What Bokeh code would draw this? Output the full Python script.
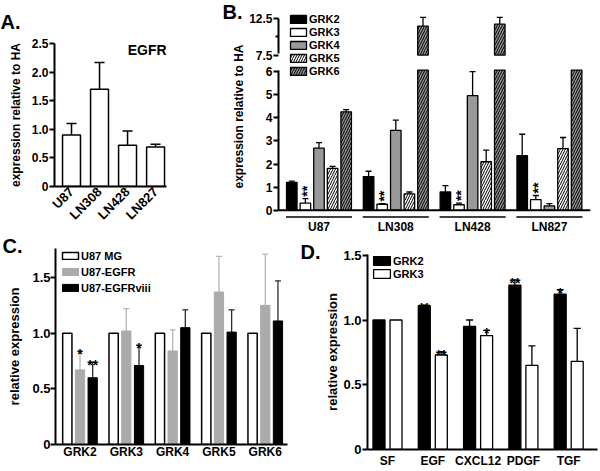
import numpy as np
from math import pi
from bokeh.plotting import figure
from bokeh.models import (Range1d, FixedTicker, Legend, LegendItem,
                          Whisker, TeeHead, ColumnDataSource, Span)
from bokeh.layouts import row, column
from bokeh.embed import file_html
from bokeh.resources import INLINE
from bokeh.core.properties import value

# ---------------- data ----------------
# Panel A
a_lines = ["U87", "LN308", "LN428", "LN827"]
a_egfr = [0.90, 1.70, 0.72, 0.69]
a_egfr_err = [1.10, 2.17, 0.97, 0.74]
a_yticks = [0, 0.5, 1.0, 1.5, 2.0, 2.5]
a_ylabels = ["0", "0.5", "1.0", "1.5", "2.0", "2.5"]

# Panel B
b_lines = ["U87", "LN308", "LN428", "LN827"]
b_series = ["GRK2", "GRK3", "GRK4", "GRK5", "GRK6"]
b_grk2 = [1.21, 1.46, 0.79, 2.36]
b_grk2_err = [1.26, 1.69, 1.07, 3.29]
b_grk3 = [0.31, 0.26, 0.24, 0.46]
b_grk3_err = [0.50, 0.29, 0.31, 0.64]
b_grk4 = [2.69, 3.46, 4.96, 0.19]
b_grk4_err = [2.93, 3.90, 6.00, 0.29]
b_grk5 = [1.81, 0.71, 2.10, 2.67]
b_grk5_err = [1.90, 0.79, 2.60, 3.15]
b_grk6 = [4.26, 11.45, 11.72, 7.00]
b_grk6_err = [4.36, 12.64, 12.64, 7.00]
b_grk3_stars = ["**", "**", "**", "**"]
b_low_ticks = [0, 1, 2, 3, 4, 5, 6]
b_high_ticks = [7.5, 12.5]
b_high_labels = ["7.5", "12.5"]
b_high_minor = [10]
b_break = (6.07, 7.5)

# Panel C
c_genes = ["GRK2", "GRK3", "GRK4", "GRK5", "GRK6"]
c_series = ["U87 MG", "U87-EGFR", "U87-EGFRviii"]
c_u87 = [1.0, 1.0, 1.0, 1.0, 1.0]
c_egfr = [0.67, 1.02, 0.84, 1.37, 1.25]
c_egfr_err = [0.84, 1.22, 1.03, 1.69, 1.71]
c_viii = [0.60, 0.71, 1.05, 1.01, 1.11]
c_viii_err = [0.74, 0.89, 1.21, 1.21, 1.47]
c_egfr_stars = ["*", "", "", "", ""]
c_viii_stars = ["**", "*", "", "", ""]
c_yticks = [0, 0.5, 1.0, 1.5]
c_ylabels = ["0", "0.5", "1.0", "1.5"]

# Panel D
d_conds = ["SF", "EGF", "CXCL12", "PDGF", "TGF"]
d_series = ["GRK2", "GRK3"]
d_grk2 = [1.00, 1.11, 0.95, 1.27, 1.20]
d_grk2_err = [1.00, 1.115, 1.00, 1.31, 1.235]
d_grk3 = [1.00, 0.73, 0.88, 0.65, 0.68]
d_grk3_err = [1.00, 0.755, 0.92, 0.80, 0.935]
d_grk2_stars = ["", "**", "", "**", "*"]
d_grk3_stars = ["", "**", "*", "", ""]
d_yticks = [0, 0.5, 1.0, 1.5]
d_ylabels = ["0", "0.5", "1.0", "1.5"]

FONT = "Liberation Sans"


def make_fig(w, h, xr, yr, left, right, top, bottom):
    p = figure(width=w, height=h, x_range=xr, y_range=yr, output_backend="svg",
               toolbar_location=None, min_border_left=left, min_border_right=right,
               min_border_top=top, min_border_bottom=bottom, frame_align=False)
    p.outline_line_color = None
    p.grid.visible = False
    p.background_fill_color = "white"
    p.border_fill_color = "white"
    return p


def style_axis(ax, font_px, tick_out=5, standoff=1):
    ax.axis_line_color = "black"
    ax.axis_line_width = 2
    if tick_out > 0:
        ax.major_tick_line_color = "black"
        ax.major_tick_line_width = 2
        ax.major_tick_out = tick_out
    else:
        ax.major_tick_line_color = None
        ax.major_tick_out = 0
    ax.major_tick_in = 0
    ax.minor_tick_line_color = None
    ax.major_label_standoff = standoff
    ax.major_label_text_font = FONT
    ax.major_label_text_font_style = "bold"
    ax.major_label_text_font_size = f"{font_px}px"
    ax.major_label_text_color = "black"
    ax.axis_label_text_font = FONT
    ax.axis_label_text_font_style = "bold"
    ax.axis_label_text_color = "black"


def add_err(p, x, val, top, color="black", size=7, y_range_name="default", width=1.5):
    x = np.asarray(x, float)
    val = np.asarray(val, float)
    top = np.asarray(top, float)
    m = top > val
    if not m.any():
        return
    src = ColumnDataSource(dict(base=x[m], lower=val[m], upper=top[m]))
    w = Whisker(base="base", lower="lower", upper="upper", source=src, dimension="height",
                line_color=color, line_width=width, lower_head=None,
                upper_head=TeeHead(size=size, line_color=color, line_width=width),
                y_range_name=y_range_name)
    p.add_layout(w)


def add_stars(p, x, y, labels, size, angle=0.0, x_off=0, y_off=3, align="center", baseline="alphabetic"):
    src = ColumnDataSource(dict(x=list(x), y=list(y), t=list(labels)))
    p.text(x="x", y="y", text="t", source=src, text_font=value(FONT), text_font_style="bold",
           text_font_size=f"{size}px", text_color="black", angle=angle,
           x_offset=x_off, y_offset=y_off, text_align=align, text_baseline=baseline)


def style_legend(leg, gw, gh, spacing):
    leg.glyph_width = gw
    leg.glyph_height = gh
    leg.label_height = 13
    leg.spacing = spacing
    leg.padding = 0
    leg.margin = 0
    leg.label_standoff = 1
    leg.border_line_color = None
    leg.background_fill_alpha = 0
    leg.label_text_font = FONT
    leg.label_text_font_style = "bold"
    leg.label_text_font_size = "11px"
    leg.label_text_color = "black"


def panel_letter(p, text, offset, standoff):
    t = p.title
    t.text = text
    t.align = "left"
    t.vertical_align = "top"
    t.offset = offset
    try:
        t.standoff = standoff
    except Exception:
        t.standoff = 0
    t.text_font = FONT
    t.text_font_style = "bold"
    t.text_font_size = "20px"
    t.text_color = "black"


# ---------------- Panel A ----------------
xa = np.arange(len(a_lines))
pa = make_fig(200, 236, Range1d(-0.607, 3.39), Range1d(0, 2.5), 54, 34, 43, 50)
pa.vbar(x=xa, top=a_egfr, width=0.64, fill_color="white", line_color="black", line_width=1.5)
add_err(pa, xa, a_egfr, a_egfr_err, size=10)
ay = pa.yaxis[0]
style_axis(ay, 12, tick_out=5, standoff=1)
ay.ticker = FixedTicker(ticks=a_yticks)
ay.major_label_overrides = dict(zip(a_yticks, a_ylabels))
ay.axis_label = "expression relative to HA"
ay.axis_label_text_font_size = "12px"
ay.axis_label_standoff = 6
ax_ = pa.xaxis[0]
style_axis(ax_, 13, tick_out=0, standoff=3)
ax_.ticker = FixedTicker(ticks=list(range(len(a_lines))))
ax_.major_label_overrides = dict(zip(range(len(a_lines)), a_lines))
ax_.major_label_orientation = pi / 4
pa.text(x=[2.7], y=[2.39], text=["EGFR"], text_font=value(FONT), text_font_style="bold",
        text_font_size="14px", text_align="center", text_baseline="alphabetic", text_color="black")
panel_letter(pa, "A.", -54, 17)

# ---------------- Panel B ----------------
nb = len(b_lines)
xb = np.arange(nb)
B_STEP, B_W = 0.177, 0.137
B_H, B_TOP, B_BOTTOM = 236, 14, 16
lo_start, lo_end = -0.356, 8.474
up_start, up_end = -14.8, 13.04
pb = make_fig(400, B_H, Range1d(-0.527, 3.535), Range1d(lo_start, lo_end), 78, 10, B_TOP, B_BOTTOM)
pb.extra_y_ranges = {"upper": Range1d(up_start, up_end)}


def up_to_lo(u):
    return lo_start + (u - up_start) * (lo_end - lo_start) / (up_end - up_start)


b_vals = [b_grk2, b_grk3, b_grk4, b_grk5, b_grk6]
b_errs = [b_grk2_err, b_grk3_err, b_grk4_err, b_grk5_err, b_grk6_err]
b_styles = [
    dict(fill_color="black"),
    dict(fill_color="white"),
    dict(fill_color="#999999"),
    dict(fill_color="white", hatch_pattern="/", hatch_color="black", hatch_scale=5, hatch_weight=1),
    dict(fill_color="#9a9a9a", hatch_pattern="/", hatch_color="#1a1a1a", hatch_scale=5, hatch_weight=1.2),
]
clip_lo, clip_hi = b_break
items = []
for i, (name, v, e, st) in enumerate(zip(b_series, b_vals, b_errs, b_styles)):
    xs = xb + (i - 2) * B_STEP
    v = np.asarray(v, float)
    e = np.asarray(e, float)
    r = pb.vbar(x=xs, top=np.minimum(v, clip_lo), bottom=0, width=B_W,
                line_color="black", line_width=1.3, **st)
    items.append(LegendItem(label=name, renderers=[r]))
    hi = v > clip_hi
    if hi.any():
        pb.vbar(x=xs[hi], top=v[hi], bottom=clip_hi, width=B_W, y_range_name="upper",
                line_color="black", line_width=1.3, **st)
        add_err(pb, xs[hi], v[hi], e[hi], size=6, y_range_name="upper", width=1.3)
    lo = e <= clip_lo
    add_err(pb, xs[lo], v[lo], e[lo], size=6, width=1.3)
x3 = xb - 1 * B_STEP
add_stars(pb, x3, b_grk3_err, b_grk3_stars, 14, angle=pi / 2, x_off=2, y_off=-2,
          align="left", baseline="middle")
pb.segment(x0=xb - 0.43, x1=xb + 0.43, y0=-0.29, y1=-0.29, line_color="black", line_width=1.3)
pb.add_layout(Span(location=0, dimension="width", line_color="black", line_width=2))
by = pb.yaxis[0]
style_axis(by, 12, tick_out=5, standoff=1)
hi_pos = [up_to_lo(t) for t in b_high_ticks]
by.bounds = (0, up_to_lo(b_high_ticks[-1]))
by.ticker = FixedTicker(ticks=b_low_ticks + hi_pos, minor_ticks=[up_to_lo(t) for t in b_high_minor])
by.major_label_overrides = dict(zip(hi_pos, b_high_labels))
by.minor_tick_line_color = "black"
by.minor_tick_line_width = 2
by.minor_tick_out = 3
by.minor_tick_in = 0
# broken axis: dash the axis rule so it has a gap between 6 and 7.5
ppu = (B_H - B_TOP - B_BOTTOM) / (lo_end - lo_start)
seg_low = int(round(b_low_ticks[-1] * ppu))
seg_gap = int(round((hi_pos[0] - b_low_ticks[-1]) * ppu))
seg_high = int(round((hi_pos[-1] - hi_pos[0]) * ppu)) + 6
by.axis_line_dash = f"{seg_low} {seg_gap} {seg_high}"
by.axis_label = "expression relative to HA"
by.axis_label_text_font_size = "12px"
by.axis_label_standoff = 0
bx = pb.xaxis[0]
style_axis(bx, 12, tick_out=0, standoff=1)
bx.axis_line_color = None
bx.ticker = FixedTicker(ticks=list(range(nb)))
bx.major_label_overrides = dict(zip(range(nb), b_lines))
legb = Legend(items=items, location=(10, 141))
style_legend(legb, 20, 10, 0)
pb.add_layout(legb)
panel_letter(pb, "B.", -56, -21)

# ---------------- Panel C ----------------
nc = len(c_genes)
xc = np.arange(nc)
C_OFF, C_W = 0.274, 0.2
pc = make_fig(300, 235, Range1d(-0.529, 4.48), Range1d(0, 1.761), 55, 13, 12, 27)
rc1 = pc.vbar(x=xc - C_OFF, top=c_u87, width=C_W, fill_color="white", line_color="black", line_width=1.5)
rc2 = pc.vbar(x=xc, top=c_egfr, width=C_W, fill_color="#ababab", line_color="#ababab", line_width=1)
rc3 = pc.vbar(x=xc + C_OFF, top=c_viii, width=C_W, fill_color="black", line_color="black", line_width=1)
add_err(pc, xc, c_egfr, c_egfr_err, color="#b5b5b5", size=6, width=1.3)
add_err(pc, xc + C_OFF, c_viii, c_viii_err, color="#2a2a2a", size=6, width=1.3)
add_stars(pc, xc, c_egfr_err, c_egfr_stars, 14, y_off=3)
add_stars(pc, xc + C_OFF, c_viii_err, c_viii_stars, 14, y_off=3)
cy = pc.yaxis[0]
style_axis(cy, 13, tick_out=5, standoff=0)
cy.ticker = FixedTicker(ticks=c_yticks)
cy.major_label_overrides = dict(zip(c_yticks, c_ylabels))
cy.axis_label = "relative expression"
cy.axis_label_text_font_size = "13px"
cy.axis_label_standoff = 7
cx = pc.xaxis[0]
style_axis(cx, 12, tick_out=0, standoff=0)
cx.ticker = FixedTicker(ticks=list(range(nc)))
cx.major_label_overrides = dict(zip(range(nc), c_genes))
legc = Legend(items=[LegendItem(label=c_series[0], renderers=[rc1]),
                     LegendItem(label=c_series[1], renderers=[rc2]),
                     LegendItem(label=c_series[2], renderers=[rc3])], location=(5, 150))
style_legend(legc, 20, 9, 3)
pc.add_layout(legc)
panel_letter(pc, "C.", -53, -21)

# ---------------- Panel D ----------------
nd = len(d_conds)
xd = np.arange(nd)
D_OFF, D_W = 0.188, 0.265
pd_ = make_fig(300, 235, Range1d(-0.4415, 4.636), Range1d(0, 1.506), 67, 3, 18, 22)
rd1 = pd_.vbar(x=xd - D_OFF, top=d_grk2, width=D_W, fill_color="black", line_color="black", line_width=1.3)
rd2 = pd_.vbar(x=xd + D_OFF, top=d_grk3, width=D_W, fill_color="white", line_color="black", line_width=1.3)
add_err(pd_, xd - D_OFF, d_grk2, d_grk2_err, size=7, width=1.3)
add_err(pd_, xd + D_OFF, d_grk3, d_grk3_err, size=7, width=1.3)
add_stars(pd_, xd - D_OFF, d_grk2_err, d_grk2_stars, 14, y_off=3)
add_stars(pd_, xd + D_OFF, d_grk3_err, d_grk3_stars, 14, y_off=3)
dy = pd_.yaxis[0]
style_axis(dy, 13, tick_out=5, standoff=1)
dy.ticker = FixedTicker(ticks=d_yticks)
dy.major_label_overrides = dict(zip(d_yticks, d_ylabels))
dy.axis_label = "relative expression"
dy.axis_label_text_font_size = "13px"
dy.axis_label_standoff = 0
dx = pd_.xaxis[0]
style_axis(dx, 12, tick_out=0, standoff=4)
dx.ticker = FixedTicker(ticks=list(range(nd)))
dx.major_label_overrides = dict(zip(range(nd), d_conds))
legd = Legend(items=[LegendItem(label=d_series[0], renderers=[rd1]),
                     LegendItem(label=d_series[1], renderers=[rd2])], location=(4, 169))
style_legend(legd, 21, 11, 0)
pd_.add_layout(legd)
panel_letter(pd_, "D.", -67, -20)

layout = column(row(pa, pb), row(pc, pd_))
open("out.html", "w").write(file_html(layout, INLINE))
